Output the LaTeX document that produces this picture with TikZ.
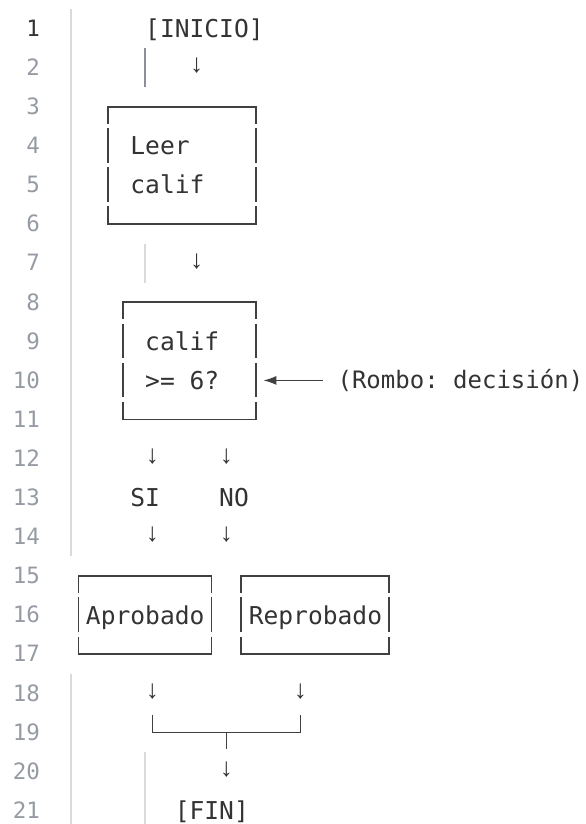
\documentclass[tikz,border=0pt]{standalone}
\usepackage{fontspec}
\setmonofont{DejaVu Sans Mono}
\newfontfamily\flechas{Liberation Mono}
\usepackage{tikz}
\usetikzlibrary{arrows.meta,calc}
\definecolor{texto}{HTML}{333333}
\definecolor{numlin}{HTML}{969BA3}
\definecolor{guia}{HTML}{DADADA}
\definecolor{guiact}{HTML}{8A8F99}
\definecolor{marco}{HTML}{404040}
\tikzset{
	cod/.style={anchor=base west, inner sep=0pt, text=texto, font=\ttfamily\fontsize{24.6}{30}\selectfont},
	baja/.style={anchor=center, inner sep=0pt, text=texto, font=\flechas\bfseries\fontsize{26}{30}\selectfont},
	num/.style={anchor=base east, inner sep=0pt, text=numlin, font=\ttfamily\fontsize{22.5}{26}\selectfont},
	borde/.style={line width=1.6pt, draw=marco},
	guide/.style={line width=1.2pt, draw=guia},
	flecha/.style={line width=1.3pt, draw=marco, -{Latex[length=13pt,width=9pt]}}
}
\newcommand{\caja}[4]{
	\draw[borde] (#1,#3+0.43) -- (#1,#3) -- (#2,#3) -- (#2,#3+0.43);
	\draw[borde] (#1,#4-0.45) -- (#1,#4) -- (#2,#4) -- (#2,#4-0.45);
	\foreach \nn in {#3,...,#4}{
		\ifnum\nn>#3 \ifnum\nn<#4
			\draw[borde] (#1,\nn-0.45) -- (#1,\nn+0.43);
			\draw[borde] (#2,\nn-0.45) -- (#2,\nn+0.43);
		\fi\fi
	}
}

\begin{document}
\begin{tikzpicture}[x=14.8pt,y=-39.1pt]
			\useasboundingbox (-4.797,0.271) rectangle (34.797,21.345);
			\draw[guide] (0,0.5) -- (0,14.5);
			\draw[guide] (0,17.5) -- (0,21.6);
			\draw[guide] (5,6.5) -- (5,7.5);
			\draw[guide] (5,19.5) -- (5,21.6);
			\draw[guide, draw=guiact] (5,1.5) -- (5,2.5);
			\node[num, text=texto] (l1) at (-2.09,1.2) {1};
			\foreach \n in {2,...,21}
				\node[num] (l\n) at (-2.09,\n+0.2) {\n};
			\node[cod] (inicio) at (5,1.23) {[INICIO]};
			\node[baja] (f1) at (8.5,1.95) {↓};
			\caja{2.5}{12.5}{3}{6}
			\node[cod] (leer) at (4,4.23) {Leer};
			\node[cod] (leer2) at (4,5.23) {calif};
			\node[baja] (f2) at (8.5,6.95) {↓};
			\caja{3.5}{12.5}{8}{11}
			\node[cod] (calif) at (5,9.23) {calif};
			\node[cod] (calif2) at (5,10.23) {>= 6?};
			\coordinate (c2e) at (13,10);
			\node[cod, anchor=west, inner xsep=14.8pt, font=\ttfamily\fontsize{24}{30}\selectfont] (rombo) at (17,10) {(Rombo: decisión)};
			\draw[flecha] (rombo.west) -- (c2e);
			\node[baja] (f3) at (5.5,11.95) {↓};
			\node[baja] (f4) at (10.5,11.95) {↓};
			\node[cod] (si) at (4,13.23) {SI};
			\node[cod] (no) at (10,13.23) {NO};
			\node[baja] (f5) at (5.5,13.95) {↓};
			\node[baja] (f6) at (10.5,13.95) {↓};
			\caja{0.5}{9.5}{15}{17}
			\caja{11.5}{21.5}{15}{17}
			\node[cod] (aprob) at (1,16.23) {Aprobado};
			\node[cod] (reprob) at (12,16.23) {Reprobado};
			\node[baja] (f7) at (5.5,17.95) {↓};
			\node[baja] (f8) at (15.5,17.95) {↓};
			\coordinate (j1) at (5.5,18.55);
			\coordinate (j2) at (15.5,18.55);
			\coordinate (jm) at (10.5,19);
			\coordinate (j3) at (10.5,19.43);
			\draw[borde] (j1) |- (jm) -| (j2);
			\draw[borde] (jm) -- (j3);
			\node[baja] (f9) at (10.5,19.95) {↓};
			\node[cod] (fin) at (7,21.23) {[FIN]};
		\end{tikzpicture}
\end{document}
